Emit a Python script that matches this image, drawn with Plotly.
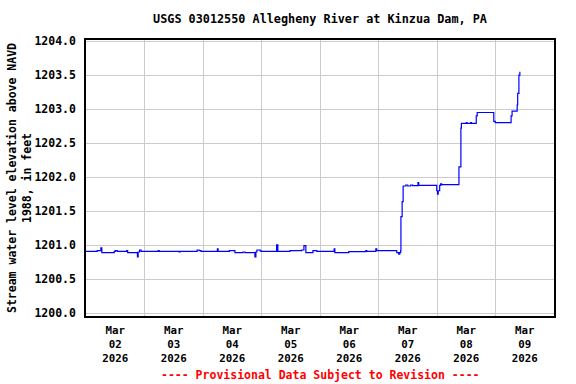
import plotly.graph_objects as go

# Time stamps (local) and gage height values
times = [
    "2026-03-02 00:00", "2026-03-02 04:36", "2026-03-02 06:06", "2026-03-02 06:30",
    "2026-03-02 11:36", "2026-03-02 12:00", "2026-03-02 12:48", "2026-03-02 16:42",
    "2026-03-02 17:06", "2026-03-02 20:12", "2026-03-02 21:06", "2026-03-02 21:24",
    "2026-03-02 22:00", "2026-03-02 22:36", "2026-03-03 05:36", "2026-03-03 06:00",
    "2026-03-03 14:12", "2026-03-03 14:36", "2026-03-03 21:36", "2026-03-03 22:24",
    "2026-03-03 23:12", "2026-03-04 05:54", "2026-03-04 06:12", "2026-03-04 10:48",
    "2026-03-04 12:24", "2026-03-04 13:06", "2026-03-04 16:24", "2026-03-04 17:12",
    "2026-03-04 21:18", "2026-03-04 21:42", "2026-03-04 22:06", "2026-03-04 23:24",
    "2026-03-04 23:48", "2026-03-05 06:12", "2026-03-05 06:42", "2026-03-05 11:42",
    "2026-03-05 16:30", "2026-03-05 17:24", "2026-03-05 18:12", "2026-03-05 20:30",
    "2026-03-05 21:06", "2026-03-05 22:42", "2026-03-06 05:48", "2026-03-06 06:06",
    "2026-03-06 11:48", "2026-03-06 18:48", "2026-03-06 19:12", "2026-03-06 22:54",
    "2026-03-06 23:18", "2026-03-07 07:06", "2026-03-07 07:30", "2026-03-07 08:18",
    "2026-03-07 08:42", "2026-03-07 09:06", "2026-03-07 09:12", "2026-03-07 09:42",
    "2026-03-07 10:06", "2026-03-07 11:12", "2026-03-07 12:00", "2026-03-07 13:12",
    "2026-03-07 14:00", "2026-03-07 16:12", "2026-03-07 16:30", "2026-03-07 23:24",
    "2026-03-07 23:54", "2026-03-08 00:12", "2026-03-08 00:30", "2026-03-08 01:06",
    "2026-03-08 01:30", "2026-03-08 01:54", "2026-03-08 08:54", "2026-03-08 09:00",
    "2026-03-08 09:36", "2026-03-08 09:48", "2026-03-08 10:00", "2026-03-08 12:00",
    "2026-03-08 12:18", "2026-03-08 13:48", "2026-03-08 14:06", "2026-03-08 15:48",
    "2026-03-08 16:06", "2026-03-08 16:30", "2026-03-08 22:54", "2026-03-08 23:18",
    "2026-03-08 23:54", "2026-03-09 05:48", "2026-03-09 06:24", "2026-03-09 06:48",
    "2026-03-09 08:42", "2026-03-09 08:54", "2026-03-09 09:06", "2026-03-09 09:36",
    "2026-03-09 10:00",
]
elevation = [
    1200.91, 1200.92, 1200.96, 1200.89,
    1200.91, 1200.92, 1200.91, 1200.92,
    1200.89, 1200.89, 1200.83, 1200.90,
    1200.93, 1200.91, 1200.92, 1200.91,
    1200.90, 1200.91, 1200.93, 1200.92,
    1200.91, 1200.945, 1200.91, 1200.92,
    1200.92, 1200.89, 1200.90, 1200.89,
    1200.83, 1200.90, 1200.93, 1200.92,
    1200.91, 1201.005, 1200.91, 1200.92,
    1200.93, 1200.995, 1200.89, 1200.89,
    1200.92, 1200.91, 1200.945, 1200.89,
    1200.905, 1200.92, 1200.91, 1200.945,
    1200.92, 1200.92, 1200.89, 1200.87,
    1200.89, 1200.92, 1201.42, 1201.64,
    1201.87, 1201.885, 1201.87, 1201.885,
    1201.875, 1201.92, 1201.88, 1201.88,
    1201.80, 1201.75, 1201.80, 1201.88,
    1201.90, 1201.89, 1201.89, 1202.15,
    1202.15, 1202.72, 1202.79, 1202.80,
    1202.79, 1202.80, 1202.79, 1202.79,
    1202.90, 1202.95, 1202.95, 1202.82,
    1202.80, 1202.80, 1202.90, 1202.97,
    1202.97, 1203.06, 1203.23, 1203.50,
    1203.55,
]

tick_vals = ["2026-03-02 12:00", "2026-03-03 12:00", "2026-03-04 12:00", "2026-03-05 12:00",
             "2026-03-06 12:00", "2026-03-07 12:00", "2026-03-08 12:00", "2026-03-09 12:00"]
tick_text = ["Mar<br>02<br>2026", "Mar<br>03<br>2026", "Mar<br>04<br>2026", "Mar<br>05<br>2026",
             "Mar<br>06<br>2026", "Mar<br>07<br>2026", "Mar<br>08<br>2026", "Mar<br>09<br>2026"]
y_ticks = [1200.0, 1200.5, 1201.0, 1201.5, 1202.0, 1202.5, 1203.0, 1203.5, 1204.0]

FONT = "DejaVu Sans Mono"
GRID = "#cccccc"

fig = go.Figure()
fig.add_trace(go.Scatter(x=times, y=elevation, mode="lines",
                         line=dict(color="#0000ff", width=1.2, shape="hv"),
                         showlegend=False))

fig.update_layout(
    width=576, height=384,
    margin=dict(l=86, r=22, t=40, b=68, autoexpand=False),
    paper_bgcolor="white", plot_bgcolor="white",
    font=dict(family=FONT, size=11.5, color="black", weight="bold"),
    title=dict(text="USGS 03012550 Allegheny River at Kinzua Dam, PA",
               x=0.5, xref="paper", xanchor="center",
               y=1 - 19 / 384, yref="container", yanchor="middle",
               font=dict(family=FONT, size=11.8, color="black", weight="bold")),
)

fig.update_xaxes(
    type="date", automargin=False,
    range=["2026-03-02 00:00", "2026-03-10 00:00"],
    tickmode="array", tickvals=tick_vals, ticktext=tick_text,
    tickfont=dict(size=10.8),
    showgrid=False,
    ticks="outside", ticklen=3, tickcolor="rgba(0,0,0,0)",
    minor=dict(dtick=86400000, tick0="2026-03-02", showgrid=True,
               gridcolor=GRID, gridwidth=1, ticks=""),
    showline=True, mirror=True, linecolor="black", linewidth=1.5,
    zeroline=False,
)
fig.update_yaxes(
    automargin=False,
    range=[1199.96, 1204.015],
    tickmode="array", tickvals=y_ticks, tickformat=".1f",
    showgrid=True, gridcolor=GRID, gridwidth=1,
    ticks="outside", ticklen=6, tickcolor="rgba(0,0,0,0)",
    showline=True, mirror=True, linecolor="black", linewidth=1.5,
    zeroline=False,
)

# y-axis title (two lines, rotated)
fig.add_annotation(text="Stream water level elevation above NAVD<br>1988, in feet",
                   xref="paper", yref="paper", x=(19 - 86) / 468, y=0.5,
                   xanchor="center", yanchor="middle", textangle=-90, showarrow=False,
                   font=dict(family=FONT, size=11.5, color="black", weight="bold"))

fig.add_annotation(text="---- Provisional Data Subject to Revision ----",
                   xref="paper", yref="paper", x=0.5, y=(316 - 374.5) / 276,
                   xanchor="center", yanchor="middle", showarrow=False,
                   font=dict(family=FONT, size=11.5, color="#ff0000", weight="bold"))

fig.write_html("out.html", config={"displayModeBar": False},
               post_script="document.body.style.margin='0';document.body.style.overflow='hidden';")
